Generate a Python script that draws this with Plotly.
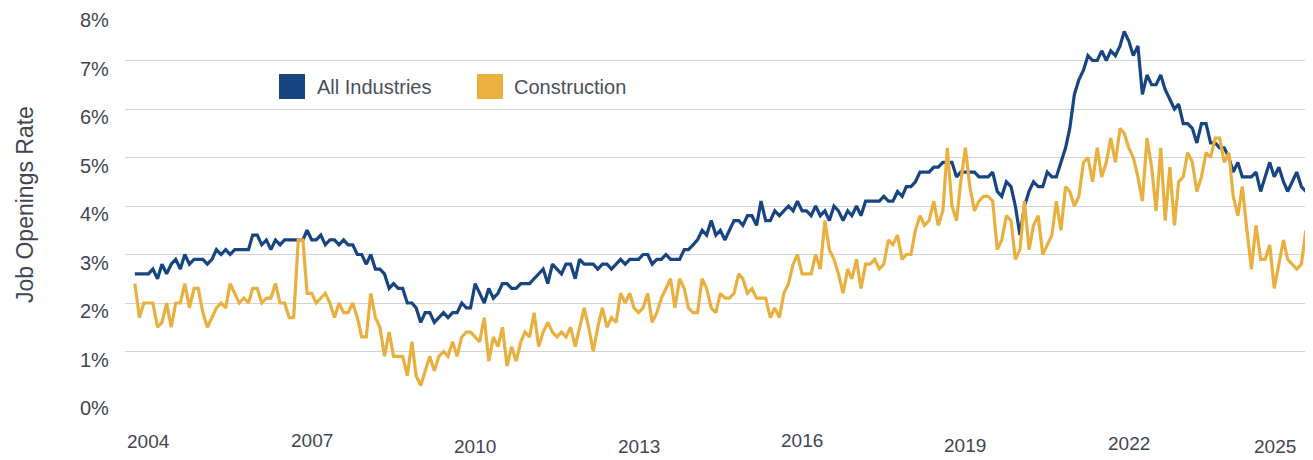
import pandas as pd
import plotly.graph_objects as go

# ---------------- data (monthly, starting Jan 2004) ----------------
start_month = "2004-01-01"

all_industries = [
    2.6, 2.6, 2.6, 2.6, 2.7, 2.5, 2.8, 2.6, 2.8, 2.9,
    2.7, 3.0, 2.8, 2.9, 2.9, 2.9, 2.8, 2.9, 3.1, 3.0,
    3.1, 3.0, 3.1, 3.1, 3.1, 3.1, 3.4, 3.4, 3.2, 3.3,
    3.1, 3.3, 3.2, 3.3, 3.3, 3.3, 3.3, 3.3, 3.5, 3.3,
    3.3, 3.4, 3.2, 3.3, 3.3, 3.2, 3.3, 3.2, 3.2, 3.0,
    3.0, 2.8, 3.0, 2.7, 2.7, 2.6, 2.3, 2.4, 2.3, 2.3,
    2.0, 2.0, 1.9, 1.6, 1.8, 1.8, 1.6, 1.7, 1.8, 1.7,
    1.8, 1.8, 2.0, 1.9, 1.9, 2.4, 2.2, 2.0, 2.3, 2.1,
    2.2, 2.4, 2.4, 2.3, 2.3, 2.4, 2.4, 2.4, 2.5, 2.6,
    2.7, 2.4, 2.8, 2.7, 2.6, 2.8, 2.8, 2.5, 2.9, 2.8,
    2.8, 2.8, 2.7, 2.8, 2.8, 2.7, 2.8, 2.9, 2.8, 2.9,
    2.9, 2.9, 3.0, 3.0, 2.8, 2.9, 2.9, 3.0, 2.9, 2.9,
    2.9, 3.1, 3.1, 3.2, 3.3, 3.5, 3.4, 3.7, 3.4, 3.5,
    3.3, 3.5, 3.7, 3.7, 3.6, 3.8, 3.8, 3.6, 4.1, 3.7,
    3.7, 3.9, 3.8, 3.9, 4.0, 3.9, 4.1, 3.9, 3.9, 3.8,
    4.0, 3.8, 3.9, 3.7, 4.0, 3.9, 3.7, 3.9, 3.8, 4.0,
    3.8, 4.1, 4.1, 4.1, 4.1, 4.2, 4.1, 4.1, 4.3, 4.2,
    4.4, 4.4, 4.5, 4.7, 4.7, 4.7, 4.8, 4.8, 4.9, 4.9,
    4.9, 4.6, 4.7, 4.7, 4.7, 4.7, 4.6, 4.6, 4.6, 4.7,
    4.3, 4.2, 4.5, 4.4, 4.0, 3.4, 4.0, 4.3, 4.5, 4.4,
    4.4, 4.7, 4.6, 4.6, 4.9, 5.2, 5.6, 6.3, 6.6, 6.8,
    7.1, 7.0, 7.0, 7.2, 7.0, 7.2, 7.1, 7.3, 7.6, 7.4,
    7.1, 7.3, 6.3, 6.7, 6.5, 6.5, 6.7, 6.4, 6.2, 6.0,
    6.1, 5.7, 5.7, 5.6, 5.3, 5.7, 5.7, 5.3, 5.3, 5.2,
    5.2, 5.0, 4.7, 4.9, 4.6, 4.6, 4.6, 4.7, 4.3, 4.6,
    4.9, 4.6, 4.8, 4.5, 4.3, 4.5, 4.7, 4.4, 4.3,
]

construction = [
    2.4, 1.7, 2.0, 2.0, 2.0, 1.5, 1.6, 2.0, 1.5, 2.0,
    2.0, 2.4, 1.9, 2.3, 2.3, 1.8, 1.5, 1.7, 1.9, 2.0,
    1.9, 2.4, 2.2, 2.0, 2.1, 2.0, 2.3, 2.3, 2.0, 2.1,
    2.1, 2.4, 2.0, 2.0, 1.7, 1.7, 3.3, 3.3, 2.2, 2.2,
    2.0, 2.1, 2.2, 2.0, 1.7, 2.0, 1.8, 1.8, 2.0, 1.7,
    1.3, 1.3, 2.2, 1.7, 1.5, 0.9, 1.4, 0.9, 0.9, 0.9,
    0.5, 1.2, 0.5, 0.3, 0.6, 0.9, 0.6, 0.9, 1.0, 0.9,
    1.2, 0.9, 1.3, 1.4, 1.4, 1.3, 1.2, 1.7, 0.8, 1.3,
    1.1, 1.5, 0.7, 1.1, 0.8, 1.2, 1.4, 1.3, 1.8, 1.1,
    1.4, 1.6, 1.4, 1.3, 1.4, 1.3, 1.5, 1.1, 1.5, 1.9,
    1.5, 1.0, 1.5, 1.9, 1.5, 1.7, 1.6, 2.2, 2.0, 2.2,
    1.9, 1.8, 1.9, 2.2, 1.6, 1.8, 2.1, 2.3, 2.5, 1.9,
    2.5, 2.3, 1.9, 1.8, 1.8, 2.5, 2.3, 1.9, 1.8, 2.2,
    2.1, 2.1, 2.2, 2.6, 2.5, 2.2, 2.3, 2.1, 2.1, 2.1,
    1.7, 1.9, 1.7, 2.2, 2.4, 2.8, 3.0, 2.6, 2.6, 2.6,
    3.0, 2.7, 3.7, 3.1, 2.9, 2.6, 2.2, 2.7, 2.5, 2.9,
    2.3, 2.8, 2.8, 2.9, 2.7, 2.8, 3.3, 3.2, 3.4, 2.9,
    3.0, 3.0, 3.5, 3.8, 3.6, 3.7, 4.1, 3.6, 3.9, 5.2,
    4.0, 3.7, 4.5, 5.2, 4.4, 3.9, 4.1, 4.2, 4.2, 4.1,
    3.1, 3.3, 3.8, 3.7, 2.9, 3.1, 4.1, 3.1, 3.6, 3.8,
    3.0, 3.2, 3.4, 4.1, 3.5, 4.4, 4.3, 4.0, 4.2, 4.9,
    5.0, 4.5, 5.2, 4.6, 4.9, 5.4, 4.9, 5.6, 5.5, 5.2,
    5.0, 4.6, 4.1, 5.4, 4.8, 3.9, 5.2, 3.7, 4.8, 3.6,
    4.5, 4.6, 5.1, 4.9, 4.3, 4.6, 5.1, 5.0, 5.4, 5.4,
    4.9, 5.1, 4.2, 3.8, 4.4, 3.5, 2.7, 3.6, 2.9, 2.9,
    3.2, 2.3, 2.8, 3.3, 2.9, 2.8, 2.7, 2.8, 3.5,
]

series_names = ["All Industries", "Construction"]
series_colors = ["#174582", "#e9b040"]
y_ticks = [0, 1, 2, 3, 4, 5, 6, 7, 8]
y_title = "Job Openings Rate"
year_labels = ["2004", "2007", "2010", "2013", "2016", "2019", "2022", "2025"]
year_label_dates = ["2004-04-01", "2007-04-01", "2010-04-01", "2013-04-01",
                    "2016-04-01", "2019-04-01", "2022-04-01", "2024-12-07"]
# vertical centre of each year label in screen pixels (labels are staggered)
year_label_py = [441, 440, 446, 446, 440, 445, 443, 446]

dates_all = pd.date_range(start_month, periods=len(all_industries), freq="MS")
dates_con = pd.date_range(start_month, periods=len(construction), freq="MS")

FONT = "Liberation Sans, Arial, sans-serif"
TEXT = "#3f4652"

fig = go.Figure()
fig.add_trace(go.Scatter(x=dates_all, y=all_industries, mode="lines",
                         name=series_names[0],
                         line=dict(color=series_colors[0], width=3.2),
                         showlegend=False))
fig.add_trace(go.Scatter(x=dates_con, y=construction, mode="lines",
                         name=series_names[1],
                         line=dict(color=series_colors[1], width=3.2),
                         showlegend=False))

# The page body has an 8px margin: the figure is drawn from screen (8, 8).
OFF = 8
SCREEN_W, SCREEN_H = 1313, 460
W, H = SCREEN_W - OFF, SCREEN_H - OFF
# plot area in screen pixels: x 125..1313, y 12..400
PL, PR, PT, PB = 125, 1313, 12, 400
L, R, T, B = PL - OFF, SCREEN_W - PR, PT - OFF, SCREEN_H - PB
pw, ph = W - L - R, H - T - B

def px_x(x):
    return (x - PL) / pw

def px_y(y):
    return (PB - y) / ph

annotations = []
# y tick labels (sit slightly below the gridlines)
for v in y_ticks:
    annotations.append(dict(x=px_x(111), xref="paper", y=v, yref="y",
                            text=f"{v}%", showarrow=False, xanchor="right",
                            yanchor="middle", yshift=-8,
                            font=dict(family=FONT, size=20, color=TEXT)))
# x labels
for lab, d, py in zip(year_labels, year_label_dates, year_label_py):
    annotations.append(dict(x=d, xref="x", y=px_y(py), yref="paper",
                            text=lab, showarrow=False, xanchor="center",
                            yanchor="middle",
                            font=dict(family=FONT, size=19, color=TEXT)))
# y title
annotations.append(dict(x=px_x(25), xref="paper", y=px_y(205), yref="paper",
                        text=y_title, showarrow=False, textangle=-90,
                        xanchor="center", yanchor="middle",
                        font=dict(family=FONT, size=23, color=TEXT)))

# legend (squares + text)
shapes = []
legend_pos = [(279, 315), (477, 512)]
for (sx, tx), name, col in zip(legend_pos, series_names, series_colors):
    shapes.append(dict(type="rect", xref="paper", yref="paper",
                       x0=px_x(sx), x1=px_x(sx + 26), y0=px_y(99), y1=px_y(74),
                       fillcolor=col, line=dict(width=0)))
    annotations.append(dict(x=px_x(tx), xref="paper", y=px_y(87), yref="paper",
                            text=name, showarrow=False, xanchor="left",
                            yanchor="middle",
                            font=dict(family=FONT, size=20, color="#4a4f5a")))

fig.update_layout(
    width=W, height=H,
    margin=dict(l=L, r=R, t=T, b=B),
    paper_bgcolor="white", plot_bgcolor="white",
    showlegend=False,
    annotations=annotations, shapes=shapes,
    xaxis=dict(type="date", range=["2003-10-27", "2025-08-18"],
               showgrid=False, zeroline=False, showline=False,
               showticklabels=False, ticks=""),
    yaxis=dict(range=[0, 8], tickvals=y_ticks, showticklabels=False,
               showgrid=True, gridcolor="#d4d4d8", gridwidth=1,
               zeroline=False, showline=False, ticks=""),
)

fig.write_html("out.html")
